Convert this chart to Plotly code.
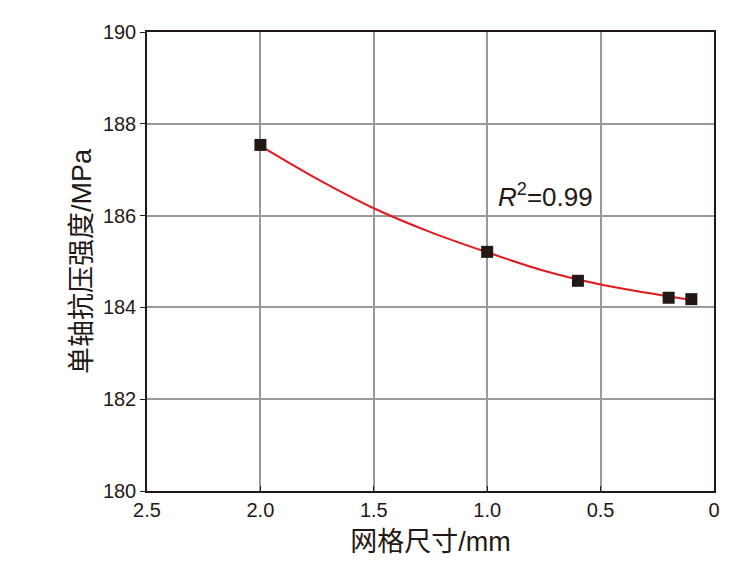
import plotly.graph_objects as go

# simulated points
mesh_size = [2.0, 1.0, 0.6, 0.2, 0.1]
strength = [187.54, 185.21, 184.58, 184.21, 184.18]

# fitted curve
fit_x = [2.0, 1.75, 1.5, 1.25, 1.0, 0.75, 0.5, 0.25, 0.1]
fit_y = [187.52, 186.8, 186.16, 185.64, 185.2, 184.8, 184.5, 184.28, 184.16]

x_ticks = [2.5, 2.0, 1.5, 1.0, 0.5, 0]
x_labels = ["2.5", "2.0", "1.5", "1.0", "0.5", "0"]
y_ticks = [180, 182, 184, 186, 188, 190]

font_family = "Liberation Sans, Arial, Noto Sans CJK SC"
ink = "#231815"

fig = go.Figure()
fig.add_trace(go.Scatter(
    x=fit_x, y=fit_y, mode="lines",
    line=dict(color="#e3191c", width=2, shape="spline", smoothing=0.8),
    showlegend=False,
))
fig.add_trace(go.Scatter(
    x=mesh_size, y=strength, mode="markers",
    marker=dict(symbol="square", size=12, color=ink),
    showlegend=False,
))

fig.add_annotation(
    x=0.96, y=186.43, xanchor="left", yanchor="middle",
    text="<i>R</i><sup>2</sup>=0.99", showarrow=False,
    font=dict(size=26, color=ink, family=font_family),
)

fig.update_xaxes(
    range=[2.5, 0], tickvals=x_ticks, ticktext=x_labels,
    showgrid=True, gridcolor="#9a9a9a", gridwidth=1.5,
    showline=True, linecolor=ink, linewidth=1.5, mirror=True,
    ticks="inside", ticklen=5, tickcolor=ink,
    tickfont=dict(size=20, color=ink, family=font_family),
    title=dict(text="网格尺寸/mm", font=dict(size=27, color=ink, family=font_family), standoff=12),
    zeroline=False,
)
fig.update_yaxes(
    range=[180, 190], tickvals=y_ticks,
    showgrid=True, gridcolor="#9a9a9a", gridwidth=1.5,
    showline=True, linecolor=ink, linewidth=1.5, mirror=True,
    ticks="outside", ticklen=5, tickcolor=ink,
    tickfont=dict(size=20, color=ink, family=font_family),
    title=dict(text="单轴抗压强度/MPa", font=dict(size=27, color=ink, family=font_family), standoff=3),
    zeroline=False,
)

fig.update_layout(
    width=752, height=565,
    margin=dict(l=139, r=46, t=24, b=82),
    paper_bgcolor="white", plot_bgcolor="white",
)

fig.write_html("out.html")
